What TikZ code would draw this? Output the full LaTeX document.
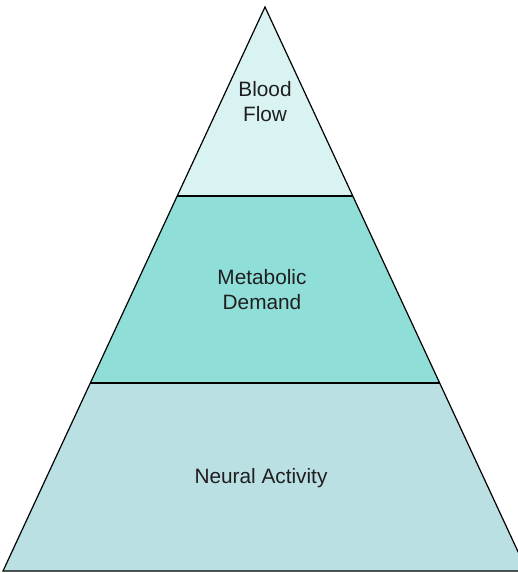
\documentclass[tikz,border=0pt]{standalone}
\usepackage{fontspec}
\setmainfont{Liberation Sans}
\usetikzlibrary{calc}
\definecolor{topc}{RGB}{217,243,242}
\definecolor{midc}{RGB}{143,223,216}
\definecolor{botc}{RGB}{186,224,228}
\begin{document}
\begin{tikzpicture}[x=1pt,y=-1pt,
  layer/.style={draw=black,line width=1.2pt,line join=miter},
  lbl/.style={font=\fontsize{20.8}{25}\selectfont,align=center,text=black!88}]
\useasboundingbox (0,0) rectangle (518,573);
\coordinate (apex) at (265,7);
\coordinate (bl) at (3,571);
\coordinate (br) at (527,571);
\coordinate (l1) at ($(apex)!0.3351!(bl)$);
\coordinate (r1) at ($(apex)!0.3351!(br)$);
\coordinate (l2) at ($(apex)!0.6667!(bl)$);
\coordinate (r2) at ($(apex)!0.6667!(br)$);
\fill[botc] (l2) -- (r2) -- (br) -- (bl) -- cycle;
\fill[midc] (l1) -- (r1) -- (r2) -- (l2) -- cycle;
\fill[topc] (apex) -- (r1) -- (l1) -- cycle;
\draw[layer] (apex) -- (br) -- (bl) -- cycle;
\draw[layer] (l1) -- (r1);
\draw[layer] (l2) -- (r2);
\node[lbl] (blood) at (265,102) {Blood\\Flow};
\node[lbl] (meta) at (262,290) {Metabolic\\Demand};
\node[lbl] (neural) at (261,478.5) {Neural Activity};
\end{tikzpicture}
\end{document}
